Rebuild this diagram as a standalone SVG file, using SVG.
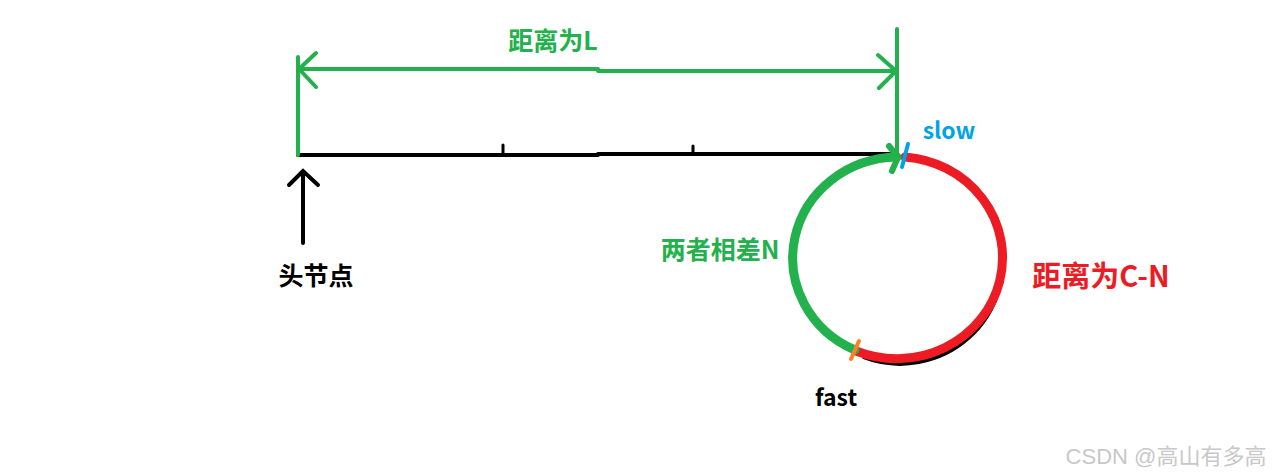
<svg xmlns="http://www.w3.org/2000/svg" width="1281" height="476" viewBox="0 0 1281 476">
<style>
.t{font-family:"Noto Sans CJK SC","Liberation Sans",sans-serif;font-weight:bold}
.g{stroke:#22b14c;fill:none;stroke-linecap:round;stroke-linejoin:round}
.k{stroke:#000;fill:none;stroke-linecap:round}
</style>
<rect width="1281" height="476" fill="#fff"/>
<g id="list-line">
<path class="k" d="M298 155 H598 M598 154 H893" stroke-width="4"/>
<path class="k" d="M503 145 V155 M693 146 V154" stroke-width="3"/>
</g>
<g id="cycle">
<path d="M998 236 A102 100 0 0 1 863 357" stroke="#000" stroke-width="4" fill="none"/>
<path d="M905 157 A106 101 0 1 1 856 351" stroke="#ed1c24" stroke-width="9" fill="none" stroke-linecap="round"/>
<path d="M897 157 A106 101 0 0 0 855 350" class="g" stroke-width="9"/>
<path d="M889 146 L898 157 L892 171" class="g" stroke-width="6"/>
<line x1="908" y1="144" x2="902" y2="167" stroke="#00a2e8" stroke-width="4" stroke-linecap="round"/>
<line x1="859" y1="341" x2="851" y2="359" stroke="#ff7f27" stroke-width="4" stroke-linecap="round"/>
</g>
<g id="distance-L">
<path class="g" d="M298 57 V155 M897 29 V155" stroke-width="4"/>
<path class="g" d="M298 69 H598 M598 71 H897" stroke-width="4"/>
<path class="g" d="M316 53 L299 69 L316 87 M878 55 L896 71 L879 88" stroke-width="4"/>
<text class="t" x="553" y="50" font-size="25" fill="#22b14c" text-anchor="middle">距离为L</text>
</g>
<g id="head">
<path class="k" d="M303 243 V171 M289 185 L303 171 L318 185" stroke-width="4"/>
<text class="t" x="316" y="285" font-size="25" fill="#000" text-anchor="middle">头节点</text>
</g>
<g id="slow">
<text class="t" x="949" y="139" font-size="23" fill="#00a2e8" text-anchor="middle">slow</text>
</g>
<g id="fast">
<text class="t" x="836" y="406" font-size="23" fill="#000" text-anchor="middle">fast</text>
</g>
<g id="diff-N">
<text class="t" x="720" y="259" font-size="25" fill="#22b14c" text-anchor="middle">两者相差N</text>
</g>
<g id="dist-CN">
<text class="t" x="1101" y="287" font-size="29" fill="#ed1c24" text-anchor="middle">距离为C-N</text>
</g>
<g id="watermark">
<text x="1166" y="464" font-size="22" fill="#c8c8c8" text-anchor="middle" font-family="'Liberation Sans','Noto Sans CJK SC',sans-serif">CSDN @高山有多高</text>
</g>
</svg>
